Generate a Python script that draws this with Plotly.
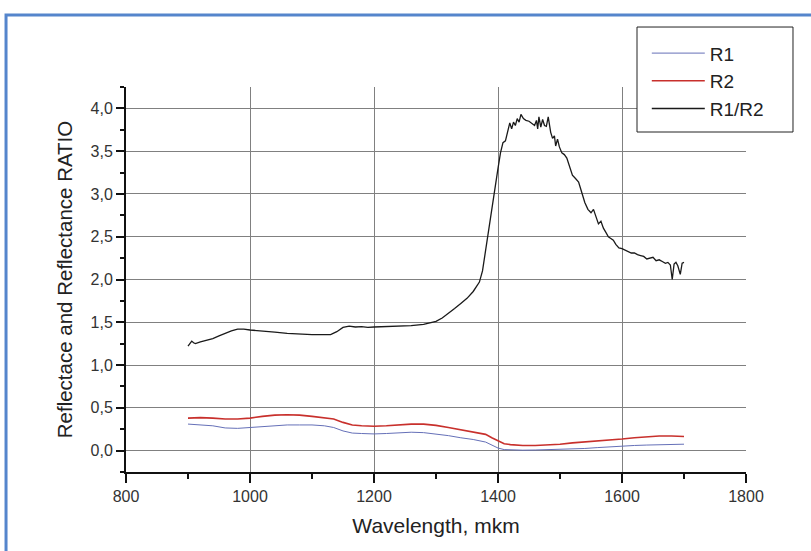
import plotly.graph_objects as go

# ---- data ----
ratio_x = [900, 903, 906, 909, 912, 920, 930, 940, 950, 960, 970, 980, 990, 1000, 1020, 1040, 1060, 1080,
           1100, 1120, 1130, 1140, 1150, 1160, 1170, 1180, 1190, 1200, 1220, 1240, 1260, 1280, 1290, 1300,
           1310, 1320, 1330, 1340, 1350, 1360, 1370, 1375, 1380, 1385, 1390, 1395, 1400, 1404, 1408, 1412,
           1416, 1419, 1422, 1425, 1428, 1431, 1434, 1437, 1441, 1445, 1450, 1455, 1459, 1462, 1464, 1466,
           1469, 1472, 1475, 1478, 1481, 1485, 1488, 1491, 1493, 1496, 1499, 1503, 1507, 1511, 1515, 1520,
           1525, 1530, 1535, 1540, 1545, 1550, 1554, 1558, 1562, 1566, 1570, 1574, 1578, 1582, 1586, 1590,
           1595, 1600, 1605, 1610, 1615, 1620, 1625, 1630, 1635, 1640, 1645, 1650, 1655, 1660, 1665, 1670,
           1674, 1678, 1681, 1684, 1687, 1690, 1694, 1697, 1700]
ratio_y = [1.22, 1.25, 1.28, 1.26, 1.25, 1.27, 1.29, 1.31, 1.34, 1.37, 1.40, 1.42, 1.42, 1.41, 1.40, 1.385,
           1.37, 1.36, 1.355, 1.355, 1.355, 1.39, 1.44, 1.455, 1.445, 1.45, 1.44, 1.445, 1.45, 1.455, 1.46,
           1.475, 1.49, 1.51, 1.55, 1.60, 1.66, 1.72, 1.78, 1.86, 1.97, 2.10, 2.35, 2.60, 2.82, 3.05, 3.30,
           3.48, 3.60, 3.62, 3.75, 3.83, 3.76, 3.84, 3.80, 3.88, 3.84, 3.93, 3.88, 3.86, 3.85, 3.82, 3.80,
           3.86, 3.76, 3.90, 3.78, 3.87, 3.80, 3.79, 3.90, 3.72, 3.65, 3.68, 3.56, 3.64, 3.55, 3.48, 3.46,
           3.42, 3.33, 3.22, 3.18, 3.14, 3.02, 2.90, 2.82, 2.78, 2.82, 2.72, 2.65, 2.68, 2.60, 2.55, 2.50,
           2.48, 2.46, 2.41, 2.37, 2.36, 2.34, 2.33, 2.31, 2.31, 2.29, 2.28, 2.27, 2.24, 2.25, 2.26, 2.22,
           2.23, 2.21, 2.19, 2.20, 2.17, 2.00, 2.18, 2.20, 2.16, 2.06, 2.19, 2.20]

refl_x = [900, 920, 940, 960, 980, 1000, 1020, 1040, 1060, 1080, 1100, 1120, 1135, 1150, 1165, 1180, 1200,
          1220, 1240, 1260, 1280, 1300, 1320, 1340, 1360, 1380, 1390, 1400, 1410, 1420, 1440, 1460, 1480,
          1500, 1520, 1540, 1560, 1580, 1600, 1620, 1640, 1660, 1680, 1700]
r2_y = [0.38, 0.385, 0.38, 0.37, 0.37, 0.38, 0.40, 0.415, 0.42, 0.415, 0.40, 0.385, 0.37, 0.33, 0.30, 0.29,
        0.285, 0.29, 0.30, 0.31, 0.31, 0.295, 0.27, 0.245, 0.22, 0.19, 0.15, 0.11, 0.08, 0.07, 0.06, 0.06,
        0.065, 0.075, 0.09, 0.10, 0.11, 0.12, 0.135, 0.15, 0.16, 0.17, 0.17, 0.165]
r1_y = [0.31, 0.30, 0.29, 0.265, 0.26, 0.27, 0.28, 0.295, 0.30, 0.30, 0.30, 0.29, 0.27, 0.23, 0.205, 0.20,
        0.195, 0.20, 0.205, 0.215, 0.21, 0.195, 0.175, 0.15, 0.13, 0.10, 0.065, 0.03, 0.012, 0.008, 0.005,
        0.007, 0.01, 0.015, 0.02, 0.025, 0.035, 0.045, 0.05, 0.06, 0.065, 0.07, 0.075, 0.075]

series_names = ["R1", "R2", "R1/R2"]
x_ticks = [800, 1000, 1200, 1400, 1600, 1800]
x_minor = [900, 1100, 1300, 1500, 1700]
x_grid = [1000, 1200, 1400, 1600]

FONT = "Arial, Liberation Sans, sans-serif"

fig = go.Figure()
fig.add_trace(go.Scatter(x=refl_x, y=r1_y, mode="lines", name=series_names[0],
                         line=dict(color="#6570b8", width=1)))
fig.add_trace(go.Scatter(x=refl_x, y=r2_y, mode="lines", name=series_names[1],
                         line=dict(color="#c8302c", width=1.6)))
fig.add_trace(go.Scatter(x=ratio_x, y=ratio_y, mode="lines", name=series_names[2],
                         line=dict(color="#1a1a1a", width=1.3)))
# empty trace to carry the labelled x axis
fig.add_trace(go.Scatter(x=[], y=[], xaxis="x2", showlegend=False, hoverinfo="skip"))

fig.update_layout(
    width=811, height=551,
    margin=dict(l=126, r=65, t=87, b=79),
    paper_bgcolor="white", plot_bgcolor="white",
    separators=", ",
    font=dict(family=FONT, color="#222"),
    showlegend=True,
    legend=dict(x=0.840, y=1.137, xanchor="left", yanchor="top",
                borderwidth=0, bgcolor="rgba(0,0,0,0)",
                font=dict(size=19, color="#222"), itemwidth=53),
    xaxis=dict(range=[800, 1800], showticklabels=False, ticks="", showline=False,
               showgrid=True, gridcolor="#808080", gridwidth=1, tickvals=x_grid,
               zeroline=False, fixedrange=True),
    xaxis2=dict(overlaying="x", anchor="y", side="bottom", range=[800, 1800],
                tickvals=x_ticks, ticks="outside", ticklen=9, tickwidth=1.5, tickcolor="#111",
                showline=True, linecolor="#111", linewidth=2, showgrid=False, zeroline=False,
                minor=dict(tickvals=x_minor, ticks="outside", ticklen=5,
                           tickwidth=1.5, tickcolor="#111", showgrid=False),
                tickfont=dict(size=16, color="#333"),
                title=dict(text="Wavelength, mkm", font=dict(size=21, color="#222"), standoff=14)),
    yaxis=dict(range=[-0.25, 4.25], tick0=0, dtick=0.5, tickformat=".1f",
               ticks="outside", ticklen=8, tickwidth=1.5, tickcolor="#111",
               showline=True, linecolor="#111", linewidth=2,
               showgrid=True, gridcolor="#808080", gridwidth=1, zeroline=False,
               minor=dict(tick0=0.25, dtick=0.5, ticks="outside", ticklen=4, tickwidth=1.5,
                          tickcolor="#111", showgrid=False),
               tickfont=dict(size=16, color="#333"),
               title=dict(text="Reflectace and Reflectance RATIO", font=dict(size=20.5, color="#222"),
                          standoff=12)),
    shapes=[
        dict(type="rect", xref="paper", yref="paper", x0=-0.1935, y0=-0.35, x1=1.25, y1=1.187,
             line=dict(color="#5585cc", width=3), fillcolor="rgba(0,0,0,0)", layer="below"),
        dict(type="rect", xref="paper", yref="paper", x0=0.8242, y0=0.8831, x1=1.0758, y1=1.1558,
             line=dict(color="#222", width=1), fillcolor="white", layer="above"),
    ],
)

fig.write_html("out.html", config={"displayModeBar": False},
               post_script="document.body.style.margin='0';")
